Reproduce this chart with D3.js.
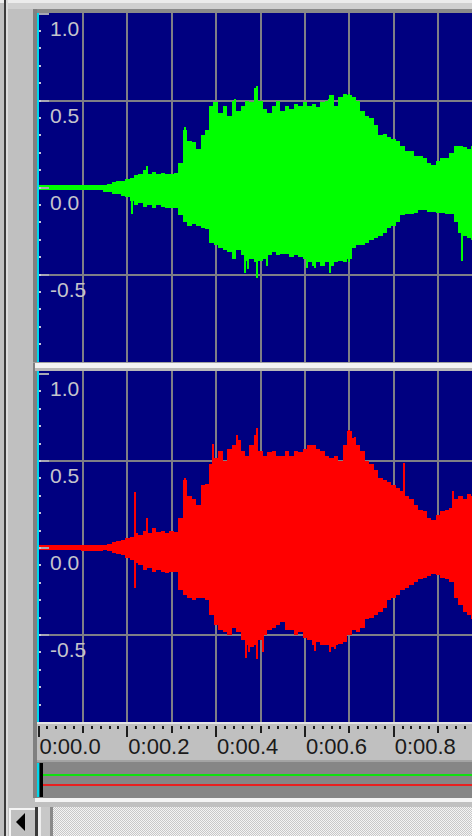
<!DOCTYPE html>
<html><head><meta charset="utf-8">
<script src="https://cdn.jsdelivr.net/npm/d3@7"></script>
<style>html,body{margin:0;padding:0;background:#c0c0c0;overflow:hidden}svg{display:block}</style>
</head><body><svg id="c" width="472" height="836"></svg>
<script>
// ---- data ----
const timeTicks = [0, 0.2, 0.4, 0.6, 0.8];
const timeLabels = ["0:00.0", "0:00.2", "0:00.4", "0:00.6", "0:00.8"];
const ampTicks = [1.0, 0.5, 0.0, -0.5];
const ampLabels = ["1.0", "0.5", "0.0", "-0.5"];
const sampleTimes = d3.range(99).map(i => i / 100);

const greenUpper = [0.012,0.012,0.012,0.012,0.012,0.012,0.012,0.012,0.012,0.012,
  0.012,0.012,0.015,0.015,0.012,0.017,0.02,0.03,0.035,0.04,
  0.05,0.057,0.069,0.075,0.1,0.08,0.09,0.08,0.086,0.075,
  0.075,0.086,0.14,0.33,0.27,0.26,0.22,0.3,0.33,0.47,
  0.49,0.43,0.47,0.41,0.5,0.44,0.47,0.5,0.49,0.57,
  0.5,0.45,0.43,0.47,0.5,0.44,0.47,0.45,0.48,0.47,
  0.49,0.47,0.48,0.46,0.49,0.5,0.53,0.47,0.52,0.54,
  0.53,0.52,0.5,0.44,0.41,0.4,0.36,0.3,0.31,0.29,
  0.28,0.27,0.24,0.21,0.21,0.18,0.18,0.17,0.14,0.13,
  0.155,0.17,0.17,0.2,0.24,0.24,0.23,0.22,0.24];
const greenLower = [-0.012,-0.012,-0.012,-0.012,-0.012,-0.012,-0.012,-0.012,-0.012,-0.012,
  -0.015,-0.015,-0.017,-0.017,-0.017,-0.023,-0.023,-0.035,-0.04,-0.046,
  -0.057,-0.075,-0.1,-0.09,-0.11,-0.1,-0.12,-0.1,-0.11,-0.115,
  -0.115,-0.115,-0.16,-0.2,-0.22,-0.21,-0.22,-0.235,-0.24,-0.32,
  -0.33,-0.345,-0.36,-0.37,-0.41,-0.36,-0.39,-0.42,-0.41,-0.43,
  -0.42,-0.41,-0.39,-0.37,-0.39,-0.38,-0.385,-0.4,-0.39,-0.4,
  -0.41,-0.43,-0.45,-0.43,-0.45,-0.43,-0.45,-0.43,-0.42,-0.43,
  -0.41,-0.35,-0.33,-0.33,-0.32,-0.3,-0.29,-0.28,-0.26,-0.235,
  -0.22,-0.2,-0.16,-0.15,-0.15,-0.145,-0.13,-0.13,-0.14,-0.14,
  -0.145,-0.145,-0.15,-0.155,-0.2,-0.26,-0.28,-0.29,-0.3];
const greenSpikes = [[0.244,0.126],[0.33,0.345],[0.395,0.49],[0.443,0.51],[0.492,0.586],
  [0.537,0.5],[0.654,0.51],[0.70,0.54],[0.712,0.52],
  [0.21,-0.15],[0.465,-0.49],[0.472,-0.47],[0.492,-0.52],[0.515,-0.45],
  [0.604,-0.465],[0.622,-0.465],[0.656,-0.49],[0.700,-0.43],[0.954,-0.42]];

const redUpper = [0.015,0.015,0.015,0.015,0.015,0.015,0.015,0.015,0.015,0.015,
  0.017,0.017,0.017,0.017,0.017,0.017,0.023,0.035,0.04,0.046,
  0.057,0.063,0.086,0.075,0.1,0.086,0.115,0.09,0.1,0.086,
  0.1,0.09,0.17,0.39,0.3,0.28,0.25,0.36,0.37,0.48,
  0.52,0.56,0.5,0.57,0.59,0.62,0.56,0.53,0.59,0.65,
  0.56,0.53,0.55,0.56,0.53,0.53,0.56,0.53,0.56,0.55,
  0.57,0.59,0.59,0.57,0.56,0.53,0.52,0.53,0.5,0.59,
  0.67,0.63,0.59,0.56,0.5,0.48,0.45,0.4,0.39,0.38,
  0.36,0.345,0.33,0.3,0.28,0.25,0.22,0.21,0.17,0.16,
  0.19,0.21,0.22,0.23,0.28,0.3,0.28,0.31,0.3];
const redLower = [-0.01,-0.01,-0.01,-0.01,-0.01,-0.01,-0.01,-0.01,-0.01,-0.01,
  -0.017,-0.017,-0.017,-0.017,-0.017,-0.012,-0.017,-0.03,-0.035,-0.04,
  -0.057,-0.07,-0.086,-0.1,-0.126,-0.115,-0.14,-0.126,-0.14,-0.145,
  -0.14,-0.14,-0.24,-0.27,-0.29,-0.3,-0.29,-0.29,-0.3,-0.385,
  -0.44,-0.47,-0.48,-0.5,-0.46,-0.48,-0.53,-0.56,-0.57,-0.56,
  -0.53,-0.5,-0.47,-0.46,-0.44,-0.425,-0.47,-0.47,-0.5,-0.48,
  -0.52,-0.53,-0.56,-0.54,-0.56,-0.56,-0.57,-0.56,-0.55,-0.54,
  -0.5,-0.47,-0.48,-0.46,-0.41,-0.4,-0.385,-0.37,-0.345,-0.3,
  -0.29,-0.27,-0.24,-0.23,-0.21,-0.195,-0.18,-0.17,-0.16,-0.15,
  -0.155,-0.17,-0.18,-0.195,-0.29,-0.33,-0.37,-0.385,-0.41];
const redSpikes = [[0.217,0.32],[0.244,0.17],[0.33,0.4],[0.392,0.6],[0.447,0.65],[0.492,0.69],
  [0.70,0.68],[0.712,0.64],[0.823,0.49],[0.934,0.33],
  [0.217,-0.23],[0.467,-0.63],[0.475,-0.6],[0.492,-0.64],[0.506,-0.6],[0.623,-0.59],[0.656,-0.6],[0.668,-0.58]];

// ---- drawing ----
const svg = d3.select("#c");
const W = 472;
const x = d3.scaleLinear().domain([0, 1]).range([38.5, 482.5]);
const panels = [
  {y: d3.scaleLinear().domain([-1, 1]).range([361.5, 13.5]), top: 13, bot: 362, up: greenUpper, lo: greenLower, spikes: greenSpikes, color: "#00ff00"},
  {y: d3.scaleLinear().domain([-1, 1]).range([722, 374]), top: 371, bot: 722, up: redUpper, lo: redLower, spikes: redSpikes, color: "#ff0000"}
];

const defs = svg.append("defs");
const pat = defs.append("pattern").attr("id", "chk").attr("width", 2).attr("height", 2).attr("patternUnits", "userSpaceOnUse");
pat.append("rect").attr("width", 2).attr("height", 2).attr("fill", "#f4f4f4");
pat.append("rect").attr("width", 1).attr("height", 1).attr("fill", "#c8c8c8");
pat.append("rect").attr("x", 1).attr("y", 1).attr("width", 1).attr("height", 1).attr("fill", "#c8c8c8");

// window chrome
svg.append("rect").attr("x", 0).attr("y", 0).attr("width", W).attr("height", 836).attr("fill", "#c0c0c0");
svg.append("rect").attr("x", 0).attr("y", 0).attr("width", W).attr("height", 3).attr("fill", "#ececec");
svg.append("rect").attr("x", 8).attr("y", 3).attr("width", W).attr("height", 6).attr("fill", "#d0d0d0");
svg.append("rect").attr("x", 33).attr("y", 9).attr("width", W).attr("height", 4).attr("fill", "#8a8a8a");
svg.append("rect").attr("x", 4).attr("y", 0).attr("width", 2).attr("height", 836).attr("fill", "#3a3a3a");
svg.append("rect").attr("x", 6).attr("y", 0).attr("width", 2).attr("height", 836).attr("fill", "#dcdcdc");
svg.append("rect").attr("x", 33).attr("y", 9).attr("width", 4).attr("height", 789).attr("fill", "#808080");

// panels
panels.forEach((p, i) => {
  svg.append("rect").attr("x", 37).attr("y", p.top).attr("width", W - 37).attr("height", p.bot - p.top).attr("fill", "#000080");
  const clipId = "clip" + i;
  defs.append("clipPath").attr("id", clipId).append("rect")
    .attr("x", 39).attr("y", p.top).attr("width", W - 39).attr("height", p.bot - p.top);
  const g = svg.append("g").attr("shape-rendering", "crispEdges");
  // vertical grid
  g.selectAll("rect.v").data(d3.range(1, 10).map(k => k / 10)).join("rect")
    .attr("x", d => Math.round(x(d)) - 1).attr("width", 2)
    .attr("y", p.top).attr("height", p.bot - p.top)
    .attr("fill", "#7e7e86");
  // horizontal grid
  g.selectAll("rect.h").data([0.5, 0, -0.5]).join("rect")
    .attr("x", 37).attr("width", W - 37)
    .attr("y", d => Math.round(p.y(d)) - 1).attr("height", 2)
    .attr("fill", "#7e7e86");
  // waveform
  const wg = svg.append("g").attr("clip-path", `url(#${clipId})`).attr("shape-rendering", "crispEdges");
  const area = d3.area().curve(d3.curveStep)
    .x((d, j) => x(sampleTimes[j]))
    .y0((d, j) => p.y(p.lo[j]))
    .y1((d, j) => p.y(p.up[j]));
  wg.append("path").datum(p.up).attr("d", area).attr("fill", p.color);
  wg.selectAll("rect.s").data(p.spikes).join("rect")
    .attr("x", d => Math.round(x(d[0])) - 1).attr("width", 2)
    .attr("y", d => Math.min(p.y(0), p.y(d[1])))
    .attr("height", d => Math.abs(p.y(d[1]) - p.y(0)))
    .attr("fill", p.color);
  // short left ticks at major amplitudes
  svg.selectAll(null).data([1, 0.5, 0, -0.5]).join("rect")
    .attr("x", 37).attr("y", d => Math.round(p.y(d)) - 1).attr("width", 12).attr("height", 2)
    .attr("fill", "#a8a8b4");
  // cyan cursor
  svg.append("rect").attr("x", 37).attr("y", p.top).attr("width", 2).attr("height", p.bot - p.top).attr("fill", "#00d8ec");
  // minor amplitude ticks
  svg.selectAll(null).data(d3.range(-9, 10).map(k => k / 10)).join("rect")
    .attr("x", 39).attr("y", d => Math.round(p.y(d)) - 1).attr("width", 2).attr("height", 2)
    .attr("fill", "#c8c8d8");
  // labels
  svg.selectAll(null).data(ampTicks).join("text")
    .attr("x", 50).attr("y", d => p.y(d) + 22)
    .attr("font-family", "Liberation Sans, Arial, sans-serif").attr("font-size", 21)
    .attr("fill", "#c4c4cc").text((d, j) => ampLabels[j]);
});

// separator between channels
svg.append("rect").attr("x", 33).attr("y", 362).attr("width", W).attr("height", 1).attr("fill", "#a0a0a0");
svg.append("rect").attr("x", 35).attr("y", 363).attr("width", W).attr("height", 5).attr("fill", "#f2f2f2");
svg.append("rect").attr("x", 35).attr("y", 368).attr("width", W).attr("height", 3).attr("fill", "#b8b8b8");

// ruler
svg.append("rect").attr("x", 37).attr("y", 722).attr("width", W).attr("height", 2).attr("fill", "#e4e4e4");
const minorT = d3.range(0, 50).map(k => k / 50);
svg.selectAll(null).data(minorT).join("rect")
  .attr("x", d => Math.round(x(d)) - 1).attr("y", 726)
  .attr("width", 2)
  .attr("height", (d, k) => k % 10 === 0 ? 11 : (k % 5 === 0 ? 7 : 3))
  .attr("fill", "#1e1e1e");
svg.selectAll(null).data(timeTicks).join("text")
  .attr("x", d => x(d) + 1).attr("y", 754)
  .attr("font-family", "Liberation Sans, Arial, sans-serif").attr("font-size", 22)
  .attr("fill", "#1a1a1a").text((d, j) => timeLabels[j]);

// overview strip
svg.append("rect").attr("x", 37).attr("y", 760).attr("width", W).attr("height", 2).attr("fill", "#a4a4a4");
svg.append("rect").attr("x", 37).attr("y", 762).attr("width", W).attr("height", 36).attr("fill", "#868686");
svg.append("rect").attr("x", 43).attr("y", 774).attr("width", W).attr("height", 2).attr("fill", "#10e010");
svg.append("rect").attr("x", 43).attr("y", 784).attr("width", W).attr("height", 2).attr("fill", "#e82020");
svg.append("rect").attr("x", 37).attr("y", 763).attr("width", 2.5).attr("height", 34).attr("fill", "#00d8ec");
svg.append("rect").attr("x", 39.5).attr("y", 763).attr("width", 3.5).attr("height", 34).attr("fill", "#000000");
svg.append("rect").attr("x", 35).attr("y", 798).attr("width", W).attr("height", 4).attr("fill", "#f4f4f4");

// scrollbar
svg.append("rect").attr("x", 53).attr("y", 807).attr("width", W).attr("height", 29).attr("fill", "url(#chk)");
svg.append("rect").attr("x", 8).attr("y", 807).attr("width", 28).attr("height", 29).attr("fill", "#c0c0c0");
svg.append("rect").attr("x", 9).attr("y", 808).attr("width", 26).attr("height", 2).attr("fill", "#f4f4f4");
svg.append("rect").attr("x", 9).attr("y", 808).attr("width", 2).attr("height", 28).attr("fill", "#f4f4f4");
svg.append("rect").attr("x", 35).attr("y", 807).attr("width", 3).attr("height", 29).attr("fill", "#3a3a3a");
svg.append("path").attr("d", "M16,822 L25,813 L25,831 Z").attr("fill", "#000");
svg.append("rect").attr("x", 38).attr("y", 807).attr("width", 15).attr("height", 29).attr("fill", "#c8c8c8");
svg.append("rect").attr("x", 38).attr("y", 807).attr("width", 3).attr("height", 29).attr("fill", "#eeeeee");
svg.append("rect").attr("x", 50).attr("y", 807).attr("width", 3).attr("height", 29).attr("fill", "#8a8a8a");
</script></body></html>
